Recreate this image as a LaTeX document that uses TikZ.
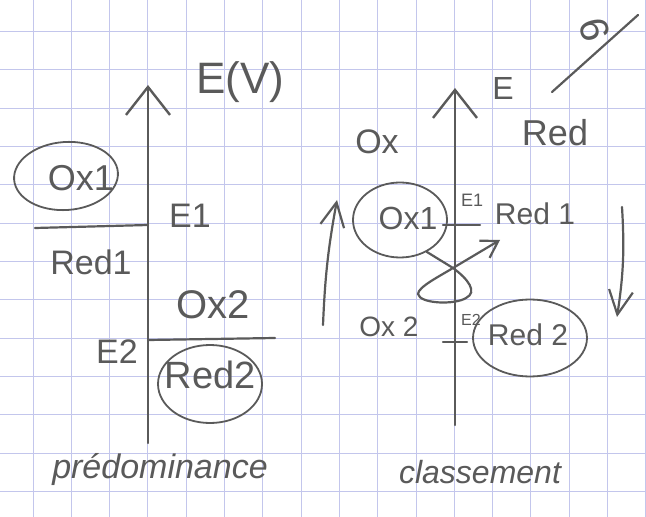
\documentclass[tikz,border=0pt]{standalone}
\usepackage{fontspec}
\setmainfont{Liberation Sans}
\usetikzlibrary{arrows.meta,shapes.geometric}
\definecolor{pencil}{HTML}{5A5A5A}
\definecolor{gridblue}{HTML}{C3C6EC}
\tikzset{
  every node/.style={text=pencil},
  hand/.style={font=\fontsize{#1}{#1}\selectfont, inner sep=1pt},
  hand/.default=16,
  scrawl/.style={hand=#1, font=\fontsize{#1}{#1}\selectfont\itshape},
  gridline/.style={draw=gridblue, line width=0.5pt},
  pen/.style={draw=pencil, line width=1.1pt, line cap=round},
  axis/.style={pen, line width=1.2pt, -{Straight Barb[length=14pt, width=22pt]}},
  trend/.style={pen, -{Straight Barb[length=12pt, width=12pt]}},
  loopy/.style={pen, -{Straight Barb[length=8pt, width=10pt]}},
  ring/.style={draw=pencil, line width=0.9pt, ellipse, inner sep=0pt},
}

\begin{document}
\begin{tikzpicture}[x=0.5pt, y=-0.5pt]
\useasboundingbox[fill=white] (0,0) rectangle (646,517);

% --- squared paper ---
\foreach \i in {0,...,16}
  \draw[gridline] ({33+38.3*\i},0) -- ({33+38.3*\i},517);
\foreach \j in {0,...,12}
  \draw[gridline] (0,{31.7+38.3*\j}) -- (646,{31.7+38.3*\j});

% --- left: predominance ---
\coordinate (lbot) at (148,443);
\coordinate (ltop) at (148,85);
\draw[axis] (lbot) -- (ltop);
\node[hand=22] (levlab) at (240,82) {E(V)};

\coordinate (le1end) at (35,228);
\coordinate (le1ax) at (148,225);
\draw[pen] (le1end) -- (le1ax);
\coordinate (le2ax) at (148,340);
\coordinate (le2end) at (275,338);
\draw[pen] (le2ax) -- (le2end);

\node[ring, minimum width=52pt, minimum height=34pt, rotate=4] (lox1ring) at (66,176) {};
\node[hand=18] (lox1) at (81,178) {Ox1};
\node[hand=17] (le1) at (190,216) {E1};
\node[hand=17] (lred1) at (91,262) {Red1};
\node[hand=20] (lox2) at (213,305) {Ox2};
\node[hand=17] (le2) at (117,352) {E2};
\node[ring, minimum width=52pt, minimum height=39pt] (lred2ring) at (210,384) {};
\node[hand=19] (lred2) at (210,375) {Red2};
\node[scrawl=17] (lcaption) at (160,470) {prédominance};

% --- right: classement ---
\coordinate (rbot) at (455,425);
\coordinate (rtop) at (455,88);
\draw[axis] (rbot) -- (rtop);
\node[hand=16] (revlab) at (503,88) {E};
\node[hand=17] (rox) at (377,142) {Ox};
\node[hand=18] (rred) at (555,133) {Red};

\coordinate (re1a) at (443,225);
\coordinate (re1b) at (480,225);
\draw[pen] (re1a) -- (re1b);
\coordinate (re2a) at (443,342);
\coordinate (re2b) at (467,342);
\draw[pen] (re2a) -- (re2b);

\node[ring, minimum width=47pt, minimum height=37.5pt] (rox1ring) at (400,220) {};
\node[hand=16] (rox1) at (408,218) {Ox1};
\node[hand=9] (re1) at (472,200) {E1};
\node[hand=15] (rred1) at (535,214) {Red 1};
\node[hand=14] (rox2) at (389,327) {Ox 2};
\node[hand=8] (re2) at (471,320) {E2};
\node[ring, minimum width=57pt, minimum height=38.5pt] (rred2ring) at (530,338) {};
\node[hand=15] (rred2) at (528,335) {Red 2};
\node[scrawl=16] (rcaption) at (480,472) {classement};

% gamma loop from Ox1 to Red 1
\coordinate (cross) at (453,268);
\coordinate (looptip) at (500,240);
\draw[loopy] (rox1ring.-50) -- (cross)
  .. controls (468,279) and (478,292) .. (466,298)
  .. controls (455,305) and (420,304) .. (418,294)
  .. controls (418,287) and (440,276) .. (cross) -- (looptip);

% trend arrows
\coordinate (upfoot) at (323,325);
\coordinate (uphead) at (337,200);
\draw[trend] (upfoot) to[bend left=4] (uphead);
\coordinate (downtop) at (622,207);
\coordinate (downhead) at (617,317);
\draw[trend] (downtop) to[bend left=6] (downhead);

% --- page mark ---
\node[hand=20, rotate=-75] (pagenum) at (595,30) {6};
\coordinate (slasha) at (552,92);
\coordinate (slashb) at (638,15);
\draw[pen] (slasha) -- (slashb);

\end{tikzpicture}
\end{document}
